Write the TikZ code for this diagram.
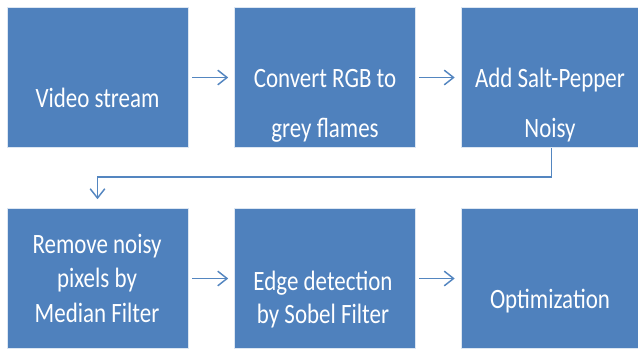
\documentclass[tikz,border=0pt]{standalone}
\usepackage{fontspec}
\setmainfont[FakeStretch=0.82]{Carlito}
\usetikzlibrary{arrows.meta}
\definecolor{boxblue}{RGB}{79,129,189}
\definecolor{linkblue}{RGB}{84,134,192}
\tikzset{
  stepbox/.style={rectangle, fill=boxblue, draw=white!80!boxblue, line width=0.4pt,
    minimum width=181*0.75pt, minimum height=140*0.75pt, inner sep=0pt},
  lbl/.style={anchor=base, text=white, font=\fontsize{21pt}{25pt}\selectfont, inner sep=0pt},
  link/.style={draw=linkblue, line width=1.1pt,
    -{Straight Barb[length=7pt,width=11pt,line width=1.1pt]}}
}
\begin{document}
\begin{tikzpicture}[x=0.75pt,y=-0.75pt]
\useasboundingbox (0,0) rectangle (638,351);
\clip (0,0) rectangle (638,351);

% processing steps, top row
\node[stepbox] (b1) at (97.5,77.5) {};
\node[stepbox] (b2) at (325,77.5) {};
\node[stepbox] (b3) at (551.5,77.5) {};
% processing steps, bottom row
\node[stepbox] (b4) at (97.5,278.5) {};
\node[stepbox] (b5) at (325,278.5) {};
\node[stepbox] (b6) at (551.5,278.5) {};

% step captions
\node[lbl] (t1) at (97.5,107) {Video stream};
\node[lbl] (t2a) at (325,87) {Convert RGB to};
\node[lbl] (t2b) at (325,137) {grey flames};
\node[lbl] (t3a) at (550,87) {Add Salt-Pepper};
\node[lbl] (t3b) at (550,137) {Noisy};
\node[lbl] (t4a) at (97,253) {Remove noisy};
\node[lbl] (t4b) at (97,287.5) {pixels by};
\node[lbl] (t4c) at (97,322) {Median Filter};
\node[lbl] (t5a) at (323,290) {Edge detection};
\node[lbl] (t5b) at (323,323) {by Sobel Filter};
\node[lbl] (t6) at (550,308) {Optimization};

% flow between steps
\draw[link, shorten <=4*0.75pt, shorten >=6*0.75pt] (b1.east) -- (b2.west);
\draw[link, shorten <=3*0.75pt, shorten >=6*0.75pt] (b2.east) -- (b3.west);
\draw[link, shorten >=9*0.75pt] (b3.south) -- ++(0,29) -| (b4.north);
\draw[link, shorten <=4*0.75pt, shorten >=6*0.75pt] (b4.east) -- (b5.west);
\draw[link, shorten <=3*0.75pt, shorten >=6*0.75pt] (b5.east) -- (b6.west);
\end{tikzpicture}
\end{document}
